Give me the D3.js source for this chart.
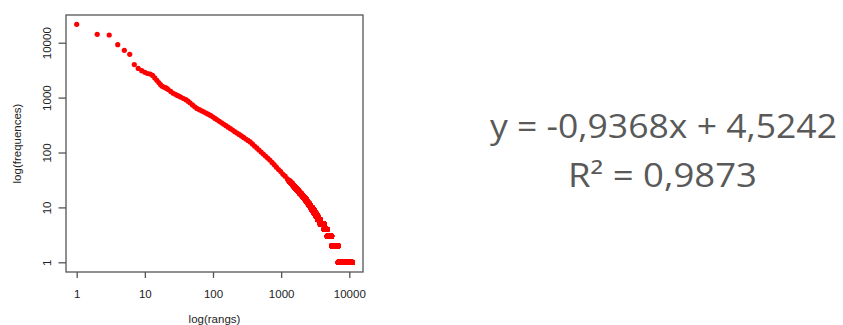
<!DOCTYPE html>
<html>
<head>
<meta charset="utf-8">
<script src="https://cdn.jsdelivr.net/npm/d3@7"></script>
<style>
  html, body { margin: 0; padding: 0; background: #fff; }
  svg { display: block; }
</style>
</head>
<body>
<svg id="chart"></svg>
<script>
// rank / frequency data
// most frequent words, one point each
const headRanks = [1, 2, 3, 4, 5, 6, 7, 8];
const headFreqs = [21600, 14200, 13800, 9200, 7270, 6150, 4000, 3400];

// sampled ranks along the dense part of the curve
const midRanks = [9, 10, 11, 12, 13, 14, 15, 16, 17, 18, 19, 20, 21, 22, 24, 26, 28, 30, 32, 34,
  37, 40, 43, 46, 50, 54, 58, 63, 68, 73, 79, 85, 92, 99, 107, 115, 124, 134, 144, 155,
  167, 180, 194, 209, 225, 242, 261, 281, 303, 326, 351, 378, 407, 438, 472, 508, 547, 589, 634, 683,
  735, 791, 852, 917, 987, 1063, 1144, 1232, 1300];
const midFreqs = [3090, 2883, 2748, 2689, 2536, 2286, 2070, 1880, 1718, 1607, 1559, 1514, 1469, 1406, 1295, 1201, 1146, 1097, 1053, 1014,
  963, 918, 861, 804, 737, 681, 635, 603, 575, 550, 523, 500, 474, 446, 418, 394, 370, 347, 327, 308,
  289, 272, 256, 240, 226, 213, 200, 188, 176, 166, 156, 143, 131, 121, 111, 102, 94, 86, 79, 73,
  66, 60, 54, 49, 45, 40, 37, 33, 31];

// low frequencies: tied words, each frequency holds ranks from its start to the next start - 1
const runFreqs = [30, 29, 28, 27, 26, 25, 24, 23, 22, 21, 20, 19, 18, 17, 16, 15, 14, 13, 12, 11,
  10, 9, 8, 7, 6, 5, 4, 3, 2, 1];
const runStarts = [1314, 1346, 1383, 1420, 1459, 1493, 1535, 1583, 1636, 1694, 1750, 1813, 1882, 1965, 2047, 2138, 2243, 2333, 2440, 2558,
  2690, 2850, 3025, 3215, 3440, 3750, 4250, 4750, 5500, 6900];
const lastRank = 11050;

// axis ticks and labels
const xTicks = [1, 10, 100, 1000, 10000];
const yTicks = [1, 10, 100, 1000, 10000];
const xTitle = "log(rangs)";
const yTitle = "log(frequences)";

// trend line (Excel style label)
const slope = -0.9368;
const intercept = 4.5242;
const r2 = 0.9873;

// build point list
let points = [];
headRanks.forEach((r, i) => points.push({ rank: r, freq: headFreqs[i] }));
midRanks.forEach((r, i) => points.push({ rank: r, freq: midFreqs[i] }));
runFreqs.forEach((f, i) => {
  const end = i < runStarts.length - 1 ? runStarts[i + 1] - 1 : lastRank;
  for (let r = runStarts[i]; r <= end; r++) points.push({ rank: r, freq: f });
});

const width = 843, height = 325;
const box = { left: 66, right: 363, top: 15, bottom: 272 };

const svg = d3.select("#chart")
  .attr("width", width)
  .attr("height", height)
  .style("font-family", "'Liberation Sans', Arial, sans-serif");

svg.append("rect").attr("width", width).attr("height", height).attr("fill", "#fff");

// scales
const x = d3.scaleLog().domain([1, 10000]).range([76.7, 349.3]);
const y = d3.scaleLog().domain([1, 10000]).range([262.3, 42.7]);

// points
svg.append("g")
  .attr("id", "points")
  .selectAll("circle")
  .data(points)
  .join("circle")
  .attr("cx", d => x(d.rank))
  .attr("cy", d => y(d.freq))
  .attr("r", 2.6)
  .attr("fill", "#ff0000");

// frame
svg.append("rect")
  .attr("x", box.left)
  .attr("y", box.top)
  .attr("width", box.right - box.left)
  .attr("height", box.bottom - box.top)
  .attr("fill", "none")
  .attr("stroke", "#555")
  .attr("stroke-width", 1.3);

// x axis
const xAxis = svg.append("g")
  .attr("transform", `translate(0,${box.bottom})`)
  .call(d3.axisBottom(x).tickValues(xTicks).tickFormat(d3.format("d")).tickSize(6).tickSizeOuter(0));
xAxis.select(".domain").remove();
xAxis.selectAll(".tick line").attr("stroke", "#555").attr("stroke-width", 1.3);
xAxis.selectAll(".tick text")
  .attr("y", 25.5)
  .attr("dy", 0)
  .attr("fill", "#222")
  .style("font-size", "11.5px")
  .style("font-family", "'Liberation Sans', Arial, sans-serif");

// y axis
const yAxis = svg.append("g")
  .attr("transform", `translate(${box.left},0)`)
  .call(d3.axisLeft(y).tickValues(yTicks).tickFormat(d3.format("d")).tickSize(7.5).tickSizeOuter(0));
yAxis.select(".domain").remove();
yAxis.selectAll(".tick line").attr("stroke", "#555").attr("stroke-width", 1.3);
yAxis.selectAll(".tick text")
  .attr("x", 0)
  .attr("dy", 0)
  .attr("text-anchor", "middle")
  .attr("transform", "translate(-15.5,0) rotate(-90)")
  .attr("fill", "#222")
  .style("font-size", "11.5px")
  .style("font-family", "'Liberation Sans', Arial, sans-serif");

// axis titles
svg.append("text")
  .attr("x", (box.left + box.right) / 2)
  .attr("y", 323)
  .attr("text-anchor", "middle")
  .attr("fill", "#222")
  .style("font-size", "11.5px")
  .text(xTitle);

svg.append("text")
  .attr("transform", `translate(20.5,${(box.top + box.bottom) / 2}) rotate(-90)`)
  .attr("text-anchor", "middle")
  .attr("fill", "#222")
  .style("font-size", "11.5px")
  .text(yTitle);

// trend equation, comma decimals and a plain hyphen for the sign
const fmt = v => d3.format(".4f")(v).replace(".", ",").replace("\u2212", "-");
const eqLine = `y = ${fmt(slope)}x + ${fmt(intercept)}`;
const r2Line = `R² = ${fmt(r2)}`;

const eq = svg.append("g")
  .attr("fill", "#595959")
  .style("font-family", "'Open Sans', 'Noto Sans', sans-serif")
  .style("font-size", "32px");

eq.append("text")
  .attr("x", 490)
  .attr("y", 138.3)
  .attr("textLength", 347)
  .attr("lengthAdjust", "spacingAndGlyphs")
  .text(eqLine);

eq.append("text")
  .attr("x", 568)
  .attr("y", 187.3)
  .attr("textLength", 189)
  .attr("lengthAdjust", "spacingAndGlyphs")
  .text(r2Line);
</script>
</body>
</html>
